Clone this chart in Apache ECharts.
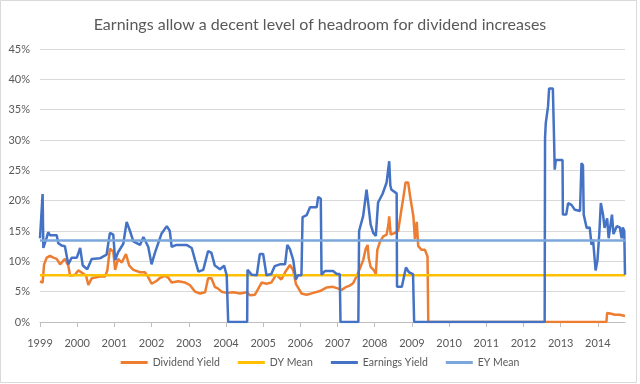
<!DOCTYPE html>
<html>
<head>
<meta charset="utf-8">
<script src="https://cdn.jsdelivr.net/npm/echarts@6/dist/echarts.min.js"></script>
<style>html,body{margin:0;padding:0;background:#fff}#c{width:640px;height:384px}</style>
</head>
<body>
<div id="c"></div>
<script>
// Decimal years (x) and percentages (y)
const yearTicks = [1999,2000,2001,2002,2003,2004,2005,2006,2007,2008,2009,2010,2011,2012,2013,2014];
const yTicks = [0,5,10,15,20,25,30,35,40,45];

const dyX = [1999.00,1999.07,1999.11,1999.18,1999.27,1999.36,1999.45,1999.54,1999.67,1999.76,1999.81,1999.94,
 2000.03,2000.16,2000.24,2000.30,2000.39,2000.61,2000.75,2000.81,2000.88,2000.97,2001.02,2001.10,2001.20,2001.31,
 2001.40,2001.51,2001.69,2001.82,2001.91,2002.00,2002.14,2002.23,2002.36,2002.45,2002.54,2002.72,2002.90,2003.03,
 2003.17,2003.30,2003.44,2003.52,2003.61,2003.70,2003.79,2003.88,2004.02,2004.20,2004.38,2004.56,2004.65,2004.78,
 2004.87,2004.96,2005.09,2005.22,2005.35,2005.49,2005.62,2005.72,2005.81,2005.88,2006.03,2006.17,2006.35,2006.53,
 2006.71,2006.88,2007.02,2007.11,2007.24,2007.33,2007.42,2007.51,2007.60,2007.69,2007.76,2007.81,2007.84,2007.89,
 2007.98,2008.03,2008.07,2008.14,2008.23,2008.32,2008.37,2008.39,2008.43,2008.54,2008.63,2008.72,2008.77,2008.83,
 2008.90,2008.95,2009.04,2009.08,2009.13,2009.17,2009.26,2009.35,2009.42,2009.44,2014.23,2014.25,2014.33,2014.46,
 2014.59,2014.73];
const dyY = [6.7,6.5,9.5,10.6,10.9,10.6,10.4,9.5,10.4,9.3,7.6,7.8,
 8.5,8.0,7.6,6.1,7.2,7.5,7.5,8.5,12.1,11.6,8.6,10.4,9.8,11.2,
 9.3,8.6,8.2,8.2,7.4,6.3,6.8,7.3,7.6,7.3,6.5,6.7,6.5,6.1,
 5.0,4.7,4.9,7.2,7.2,5.8,5.5,5.0,4.8,4.9,4.7,4.9,4.4,4.5,
 5.5,6.5,6.3,6.5,7.8,7.0,8.5,9.4,8.5,6.3,4.7,4.5,4.8,5.1,
 5.7,5.8,5.5,5.3,5.8,6.0,6.4,7.5,8.8,10.2,12.1,12.7,10.5,9.1,
 8.5,7.9,11.9,13.2,14.1,14.4,16.1,17.4,14.4,14.7,15.0,18.6,20.5,23.0,
 23.0,20.8,17.4,13.7,16.5,12.5,11.9,11.9,10.8,0,0,1.5,1.4,1.2,
 1.2,1.0];

const eyX = [1999.00,1999.05,1999.07,1999.09,1999.12,1999.18,1999.22,1999.27,1999.45,1999.49,1999.58,1999.67,1999.76,
 1999.85,1999.99,2000.08,2000.15,2000.27,2000.39,2000.61,2000.79,2000.88,2000.97,2001.02,2001.10,2001.24,2001.33,
 2001.42,2001.51,2001.69,2001.78,2001.91,2002.00,2002.09,2002.18,2002.27,2002.41,2002.49,2002.54,2002.67,2002.94,
 2003.08,2003.17,2003.26,2003.39,2003.52,2003.61,2003.70,2003.84,2003.95,2004.02,2004.06,2004.57,2004.58,2004.69,
 2004.83,2004.91,2005.00,2005.09,2005.22,2005.31,2005.45,2005.59,2005.65,2005.72,2005.81,2005.88,2005.94,2006.03,
 2006.06,2006.17,2006.26,2006.44,2006.48,2006.55,2006.57,2006.66,2006.88,2006.98,2007.06,2007.08,2007.56,2007.58,
 2007.69,2007.78,2007.83,2007.89,2007.96,2008.03,2008.09,2008.21,2008.32,2008.39,2008.42,2008.45,2008.59,2008.60,
 2008.73,2008.84,2008.92,2009.03,2009.06,2012.57,2012.58,2012.60,2012.64,2012.66,2012.69,2012.79,2012.82,2012.84,
 2012.87,2013.05,2013.06,2013.15,2013.20,2013.29,2013.38,2013.52,2013.56,2013.60,2013.62,2013.70,2013.78,2013.83,
 2013.87,2013.94,2013.99,2014.04,2014.08,2014.14,2014.18,2014.25,2014.29,2014.38,2014.42,2014.51,2014.59,2014.64,
 2014.67,2014.71,2014.73];
const eyY = [13.8,13.8,21.1,12.2,12.5,13.9,14.8,14.3,14.3,13.0,12.6,12.5,9.5,
 10.6,10.6,12.2,9.3,8.7,10.4,10.5,11.1,14.7,14.4,10.2,11.5,12.9,16.5,
 15.0,13.3,12.7,14.0,12.4,9.5,11.4,13.0,14.6,15.8,15.0,12.4,12.7,12.7,
 12.2,10.2,8.3,8.6,11.7,11.4,9.3,8.7,9.3,7.7,0,0,8.6,7.8,
 7.7,11.2,11.2,7.7,7.9,9.2,9.5,9.5,12.7,12.0,10.2,7.0,7.7,7.7,
 17.3,17.6,18.9,18.9,20.6,20.3,7.8,8.4,8.4,7.9,7.9,0,0,15.0,
 17.5,21.8,19.3,16.1,14.7,14.2,19.7,21.1,23.0,26.5,22.5,21.8,21.2,5.8,
 5.8,9.0,8.2,7.9,0,0,30.3,32.8,33.0,35.5,38.5,38.5,30.9,25.1,
 26.7,26.7,17.7,17.7,19.6,19.3,18.5,18.3,26.2,25.8,17.7,15.5,15.6,12.7,
 13.6,8.5,10.2,14.7,19.6,17.7,15.5,17.1,13.8,17.7,14.5,15.8,15.6,13.8,
 15.6,15.0,7.8];

const meanX = [1999, 2014.73];
const dyMeanY = [7.7, 7.7];
const eyMeanY = [13.45, 13.45];

const zip = (xs, ys) => xs.map((x, i) => [x, ys[i]]);
const txt = '#595959';
const font = 'Lato';

const chart = echarts.init(document.getElementById('c'), null, {renderer: 'canvas'});
chart.setOption({
  animation: false,
  backgroundColor: '#fff',
  textStyle: {fontFamily: font},
  title: {
    text: 'Earnings allow a decent level of headroom for dividend increases',
    left: 'center', top: 12,
    textStyle: {fontFamily: font, fontSize: 16, fontWeight: 'normal', color: txt}
  },
  graphic: [{type: 'rect', shape: {x: 0.5, y: 0.5, width: 636, height: 382}, style: {fill: 'none', stroke: '#d9d9d9', lineWidth: 1}, silent: true}],
  grid: {left: 40, right: 15, top: 49, bottom: 62, containLabel: false},
  legend: {
    top: 352, left: 'center', icon: 'rect', itemWidth: 27, itemHeight: 3, itemGap: 18,
    textStyle: {fontFamily: font, fontSize: 10.5, color: txt},
    data: ['Dividend Yield', 'DY Mean', 'Earnings Yield', 'EY Mean']
  },
  xAxis: {
    type: 'value', min: yearTicks[0], max: 2014.73, interval: 1,
    axisLine: {show: true, lineStyle: {color: '#bfbfbf'}},
    axisTick: {show: true, length: 5, lineStyle: {color: '#bfbfbf'}},
    splitLine: {show: false},
    axisLabel: {showMaxLabel: false, color: txt, fontFamily: font, fontSize: 11, margin: 16,
      formatter: v => yearTicks.includes(Math.round(v)) && Math.abs(v - Math.round(v)) < 1e-6 ? String(Math.round(v)) : ''}
  },
  yAxis: {
    type: 'value', min: yTicks[0], max: yTicks[yTicks.length - 1], interval: 5,
    axisLine: {show: false}, axisTick: {show: false},
    splitLine: {lineStyle: {color: '#d9d9d9'}},
    axisLabel: {color: txt, fontFamily: font, fontSize: 11, margin: 10, formatter: '{value}%'}
  },
  series: [
    {name: 'Dividend Yield', type: 'line', symbol: 'none', data: zip(dyX, dyY), color: '#ED7D31', lineStyle: {width: 2.5, color: '#ED7D31'}},
    {name: 'DY Mean', type: 'line', symbol: 'none', data: zip(meanX, dyMeanY), color: '#FFC000', lineStyle: {width: 2.5, color: '#FFC000'}},
    {name: 'Earnings Yield', type: 'line', symbol: 'none', data: zip(eyX, eyY), color: '#4472C4', lineStyle: {width: 2.5, color: '#4472C4'}},
    {name: 'EY Mean', type: 'line', symbol: 'none', data: zip(meanX, eyMeanY), color: '#7BA7DA', lineStyle: {width: 2.5, color: '#7BA7DA'}}
  ]
});
</script>
</body>
</html>
